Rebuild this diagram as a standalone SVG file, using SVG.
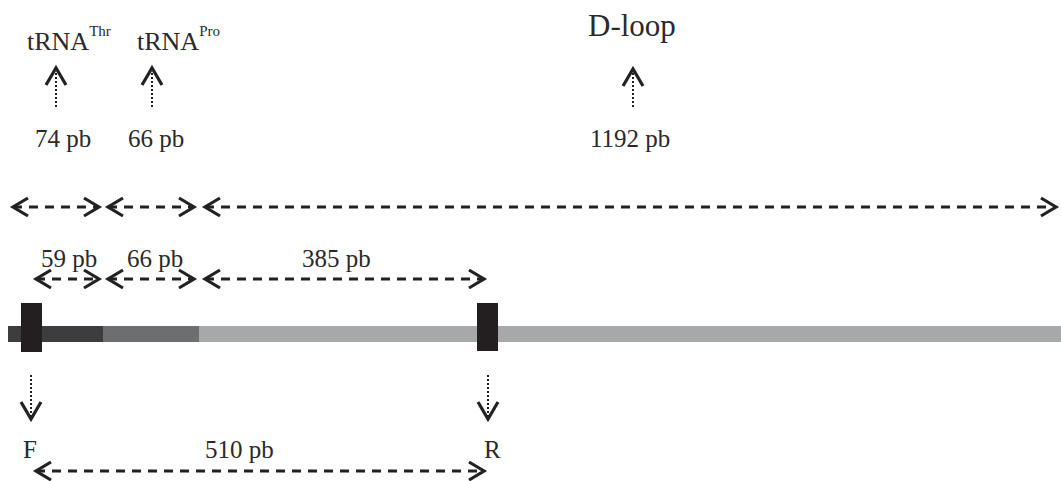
<svg xmlns="http://www.w3.org/2000/svg" width="1061" height="481" viewBox="0 0 1061 481">
  <style>
    text { font-family: "Liberation Serif", "Times New Roman", serif; fill: #2a2a2a; }
    .num { font-size: 25px; }
    .lbl { font-size: 26px; }
    .sup { font-size: 15px; }
    .big { font-size: 31px; }
    .span { fill: none; stroke: #222; stroke-width: 3; stroke-dasharray: 9 7; marker-start: url(#ah); marker-end: url(#ah); }
    .dot { fill: none; stroke: #222; stroke-width: 2; stroke-dasharray: 2 2; marker-end: url(#ah2); }
  </style>
  <defs>
    <marker id="ah" markerUnits="userSpaceOnUse" viewBox="-18 -11 20 22" refX="0" refY="0" markerWidth="20" markerHeight="22" orient="auto-start-reverse" overflow="visible">
      <path d="M-15,-9 L0,0 L-15,9" fill="none" stroke="#222" stroke-width="3.2"/>
    </marker>
    <marker id="ah2" markerUnits="userSpaceOnUse" viewBox="-20 -12 22 24" refX="0" refY="0" markerWidth="22" markerHeight="24" orient="auto" overflow="visible">
      <path d="M-17,-10 L0,0 L-17,10" fill="none" stroke="#222" stroke-width="3.2"/>
    </marker>
  </defs>
  <rect width="1061" height="481" fill="#ffffff"/>

  <g id="labels-top">
    <text class="lbl" x="27" y="50">tRNA<tspan class="sup" dy="-14">Thr</tspan></text>
    <text class="lbl" x="137" y="50">tRNA<tspan class="sup" dy="-14">Pro</tspan></text>
    <text class="big" x="588" y="36">D-loop</text>
    <text class="num" x="35" y="147">74 pb</text>
    <text class="num" x="128" y="147">66 pb</text>
    <text class="num" x="590" y="147">1192 pb</text>
  </g>

  <g id="labels-mid">
    <text class="num" x="41" y="267">59 pb</text>
    <text class="num" x="127" y="267">66 pb</text>
    <text class="num" x="302" y="267">385 pb</text>
  </g>

  <g id="sequence">
    <rect x="8" y="326" width="95" height="16" fill="#3d3d3f"/>
    <rect x="103" y="326" width="96" height="16" fill="#6d6e70"/>
    <rect x="199" y="326" width="862" height="16" fill="#a7a8aa"/>
  </g>

  <g id="primer-F">
    <rect x="21" y="303" width="21" height="49" fill="#231f20"/>
    <text class="num" x="23" y="458">F</text>
  </g>
  <g id="primer-R">
    <rect x="477" y="303" width="21" height="48" fill="#231f20"/>
    <text class="num" x="484" y="458">R</text>
  </g>

  <g id="label-bottom">
    <text class="num" x="205" y="458">510 pb</text>
  </g>

  <g id="connectors">
    <line class="span" x1="13" y1="207" x2="99" y2="207"/>
    <line class="span" x1="108" y1="207" x2="194" y2="207"/>
    <line class="span" x1="205" y1="207" x2="1056" y2="207"/>
    <line class="span" x1="36" y1="279" x2="99" y2="279"/>
    <line class="span" x1="108" y1="279" x2="194" y2="279"/>
    <line class="span" x1="205" y1="279" x2="484" y2="279"/>
    <line class="span" x1="36" y1="471" x2="484" y2="471"/>
    <line class="dot" x1="56" y1="107" x2="56" y2="68"/>
    <line class="dot" x1="152" y1="107" x2="152" y2="68"/>
    <line class="dot" x1="633" y1="107" x2="633" y2="69"/>
    <line class="dot" x1="31" y1="375" x2="31" y2="419"/>
    <line class="dot" x1="488" y1="375" x2="488" y2="419"/>
  </g>
</svg>
